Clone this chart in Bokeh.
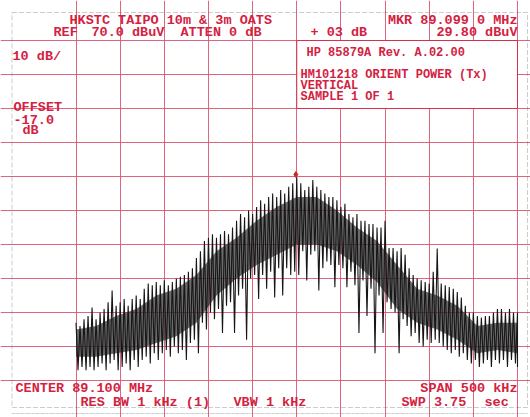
import numpy as np
from bokeh.plotting import figure
from bokeh.models import Range1d, FixedTicker, Label, BoxAnnotation
from bokeh.embed import file_html
from bokeh.resources import INLINE

# ---------------- data (read from the analyser print-out) ----------------
center_mhz = 89.100
span_mhz = 0.500
ref_level = 70.0          # dBuV, top graticule line
db_per_div = 10
n_vdiv = 10
n_hdiv = 10
marker_freq = 89.099
marker_level = 29.80

# trace: local peak / trough (dBuV) at evenly spaced sweep points across the span
trace_hi = [
    -13, -14, -12, -11, -8.5, -12, -10, -9, -7, -3.5,
    -8, -7, -6, -8, -6, -5, -6, -3, -1.5, -2,
    -1, -2, -0.5, -2, -1, 0, 0.5, 1, 2, 3,
    6, 8, 11, 12, 13, 12, 13, 14, 13, 15,
    17, 19, 18, 20, 19, 21, 23, 22, 24, 25,
    24, 26, 25, 27, 28, 29.8, 28, 26, 27, 29,
    27, 26, 25, 24, 24, 23, 21, 22, 19, 18,
    19, 17, 17, 16, 16, 15, 15, 17, 9, 9,
    8, 9, 7, 3, 1, 0, -0.5, -1, -1.5, 2,
    8.8, -1.5, -2, -2.5, -3, -4, -5.6, -8, -10, -10,
    -11, -11.5, -11, -11, -10, -9, -9, -10, -9, -10,
    -10,
]
trace_lo = [
    -27, -26, -27, -26, -27, -26, -25, -27, -25, -24,
    -27, -26, -25, -27, -24, -26, -24, -23, -25, -22,
    -24, -22, -21, -23, -20, -22, -21, -24, -19, -18,
    -22, -13, -15, -10, -12, -9, -16, -8, -7, -16,
    -5, -3, -18, 0, 1, -6, 1, -3, 2, -5.6,
    3, -5, 3, 1, 2, 1, 8, -0.6, 7, 8,
    -3.5, 3, 5, 4, -2.6, 4, 3, -2.6, 2, -2,
    -16, -0.6, -11, -3, -22, -5, -16, -7, -9, -10,
    -22, -12, -14, -17, -16, -19, -20, -18, -19, -18,
    -19, -20, -21, -22, -21, -23, -22, -24, -25, -24,
    -26, -25, -24, -26, -24, -25, -24, -26, -24, -25,
    -26,
]
# dense (solid black) part of the trace band, coarser sampling
core_top = [-15, -14, -11, -9, -5, -3, 1, 8, 12, 17, 21, 24,
            24, 20, 15, 11, 4, -3, -5, -8, -14, -13, -13]
core_bot = [-23, -23, -22, -21, -19, -17, -13, -5, 0, 4, 7, 10,
            10, 8, 4, -1, -9, -13, -15, -18, -22, -21, -22]

header_l1 = "HKSTC TAIPO 10m & 3m OATS"
ref_txt = ["REF", "70.0 dBuV", "ATTEN 0 dB", "+ 03 dB"]
mkr_l1 = "MKR 89.099 0 MHz"
mkr_l2 = "29.80 dBuV"
scale_txt = "10 dB/"
offset_txt = ["OFFSET", "-17.0", "dB"]
box_title = "HP 85879A Rev. A.02.00"
box_txt = ["HM101218 ORIENT POWER (Tx)", "VERTICAL", "SAMPLE 1 OF 1"]
center_txt = "CENTER 89.100 MHz"
span_txt = "SPAN 500 kHz"
rbw_txt = "RES BW 1 kHz (1)"
vbw_txt = "VBW 1 kHz"
swp_txt = ["SWP 3.75", "sec"]

# ---------------- derived ----------------
f_start = center_mhz - span_mhz / 2
f_stop = center_mhz + span_mhz / 2
bottom_level = ref_level - db_per_div * n_vdiv
freq_ticks = [f_start + i * span_mhz / n_hdiv for i in range(n_hdiv + 1)]
level_ticks = [bottom_level + i * db_per_div for i in range(n_vdiv + 1)]

# ---------------- layout ----------------
W, H = 530, 417
gx0, gx1 = 75.5, 517.0     # graticule left/right, canvas px
gy0, gy1 = 40.0, 380.0     # graticule top/bottom, canvas px
xs = span_mhz / (gx1 - gx0)
ys = (ref_level - bottom_level) / (gy1 - gy0)
x_range = Range1d(f_start - gx0 * xs, f_stop + (W - gx1) * xs)
y_range = Range1d(bottom_level - (H - gy1) * ys, ref_level + gy0 * ys)

RED = "#d3223f"
GRID = "#dc5470"
FONT = "Liberation Mono"

p = figure(width=W, height=H, x_range=x_range, y_range=y_range,
           output_backend="svg", toolbar_location=None,
           x_axis_location=None, y_axis_location=None,
           min_border=0, min_border_left=0, min_border_right=0,
           min_border_top=0, min_border_bottom=0)
p.outline_line_color = None
p.background_fill_color = "white"
p.border_fill_color = "white"

p.xgrid.ticker = FixedTicker(ticks=freq_ticks)
p.xgrid.bounds = (bottom_level, ref_level)
p.ygrid.ticker = FixedTicker(ticks=level_ticks)
p.ygrid.bounds = (f_start, f_stop)
for g in (p.xgrid, p.ygrid):
    g.grid_line_color = GRID
    g.grid_line_width = 1.0
    g.grid_line_alpha = 0.9

# dense core of the trace band
fc = np.linspace(f_start, f_stop, len(core_top))
p.varea(x=fc, y1=core_bot, y2=core_top, fill_color="#2c2c2c", fill_alpha=0.7)

# trace as alternating peaks / troughs
n = len(trace_hi)
f = np.linspace(f_start, f_stop, n)
step = span_mhz / (n - 1)
zx, zy = [], []
for i in range(n):
    zx.append(f[i]); zy.append(trace_hi[i])
    zx.append(min(f[i] + step / 2, f_stop)); zy.append(trace_lo[i])
p.line(zx, zy, line_color="#161616", line_width=1.1)

# marker
p.scatter([marker_freq], [marker_level + 0.8], marker="diamond", size=6,
          fill_color="#c62a2a", line_color="#c62a2a")

# annotation box (upper right)
p.add_layout(BoxAnnotation(left=center_mhz, right=f_stop,
                           bottom=ref_level - 2 * db_per_div, top=ref_level,
                           fill_color="white", fill_alpha=1.0,
                           line_color=RED, line_width=1, line_alpha=0.9))

# outer frame of the print-out
p.add_layout(BoxAnnotation(left=11.5, right=527, bottom=H - 407, top=H - 12,
                           left_units="screen", right_units="screen",
                           bottom_units="screen", top_units="screen",
                           fill_alpha=0, line_color="#555555", line_width=1,
                           line_dash="5 2"))
p.add_layout(BoxAnnotation(left=11.5, right=527, bottom=H - 413, top=H - 413,
                           left_units="screen", right_units="screen",
                           bottom_units="screen", top_units="screen",
                           fill_alpha=0, line_color="#888888", line_width=1,
                           line_dash="3 2"))


def lab(txt, px, py, size="13.5px", align="left"):
    p.add_layout(Label(x=px, y=H - py, x_units="screen", y_units="screen",
                       text=txt, text_font=FONT, text_font_size=size,
                       text_font_style="bold", text_color=RED,
                       text_align=align, text_baseline="middle"))


lab(header_l1, 69, 20)
lab(ref_txt[0], 53, 32)
lab(ref_txt[1], 91, 32)
lab(ref_txt[2], 180, 32)
lab(ref_txt[3], 310, 32)
lab(mkr_l1, 517, 20, align="right")
lab(mkr_l2, 517, 32, align="right")
lab(scale_txt, 12, 56)
lab(offset_txt[0], 13, 107)
lab(offset_txt[1], 13, 118.5)
lab(offset_txt[2], 22, 130)
lab(box_title, 306, 52, size="12px")
lab(box_txt[0], 300, 74, size="12px")
lab(box_txt[1], 300, 85, size="12px")
lab(box_txt[2], 300, 96, size="12px")
lab(center_txt, 15, 388)
lab(span_txt, 517, 388, align="right")
lab(rbw_txt, 80, 402)
lab(vbw_txt, 233, 402)
lab(swp_txt[0], 401, 402)
lab(swp_txt[1], 484, 402)

open("out.html", "w").write(file_html(p, INLINE))
